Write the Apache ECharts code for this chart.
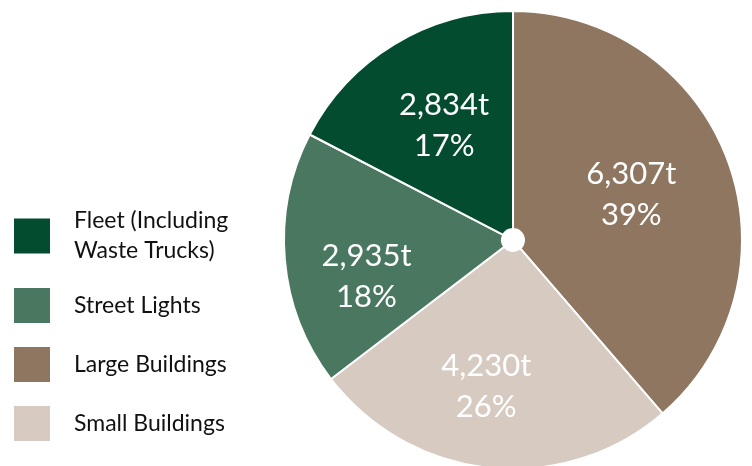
<!DOCTYPE html>
<html>
<head>
<meta charset="utf-8">
<script src="https://cdn.jsdelivr.net/npm/echarts@6/dist/echarts.min.js"></script>
<style>
  html, body { margin: 0; padding: 0; background: #fff; }
  #chart { width: 752px; height: 466px; }
</style>
</head>
<body>
<div id="chart"></div>
<script>
// slices in drawing order, clockwise from 12 o'clock
var categories = ['Large Buildings', 'Small Buildings', 'Street Lights', 'Fleet (Including\nWaste Trucks)'];
var tonnes = [6307, 4230, 2935, 2834];
var colors = ['#8e7660', '#d6cac1', '#4a7760', '#034c2f'];
var legendOrder = ['Fleet (Including\nWaste Trucks)', 'Street Lights', 'Large Buildings', 'Small Buildings'];
// nudge for the inside labels (they were hand placed in the original)
var labelShift = [[3, -3], [-14, 24], [-24, 26], [-5, -9]];

var chart = echarts.init(document.getElementById('chart'));

var pieData = categories.map(function (name, i) {
  return { name: name, value: tonnes[i], itemStyle: { color: colors[i] } };
});

var option = {
  animation: false,
  legend: {
    orient: 'vertical',
    left: 12,
    top: 206,
    padding: 0,
    itemWidth: 38,
    itemHeight: 37,
    itemGap: 20,
    icon: 'rect',
    data: legendOrder,
    selectedMode: false,
    textStyle: {
      fontFamily: 'Lato',
      fontSize: 23,
      lineHeight: 30,
      color: '#111',
      padding: [0, 0, 0, 18]
    }
  },
  series: [{
    type: 'pie',
    center: [513, 240],
    radius: [11, 229],
    startAngle: 90,
    clockwise: true,
    data: pieData,
    itemStyle: { borderColor: '#fff', borderWidth: 2 },
    label: {
      position: 'inside',
      color: '#fff',
      fontFamily: 'Lato',
      fontSize: 31,
      lineHeight: 41,
      formatter: function (p) {
        return p.value.toLocaleString('en-US') + 't\n' + Math.round(p.percent) + '%';
      }
    },
    labelLayout: function (p) {
      return { dx: labelShift[p.dataIndex][0], dy: labelShift[p.dataIndex][1] };
    },
    emphasis: { disabled: true }
  }]
};
chart.setOption(option);
</script>
</body>
</html>
